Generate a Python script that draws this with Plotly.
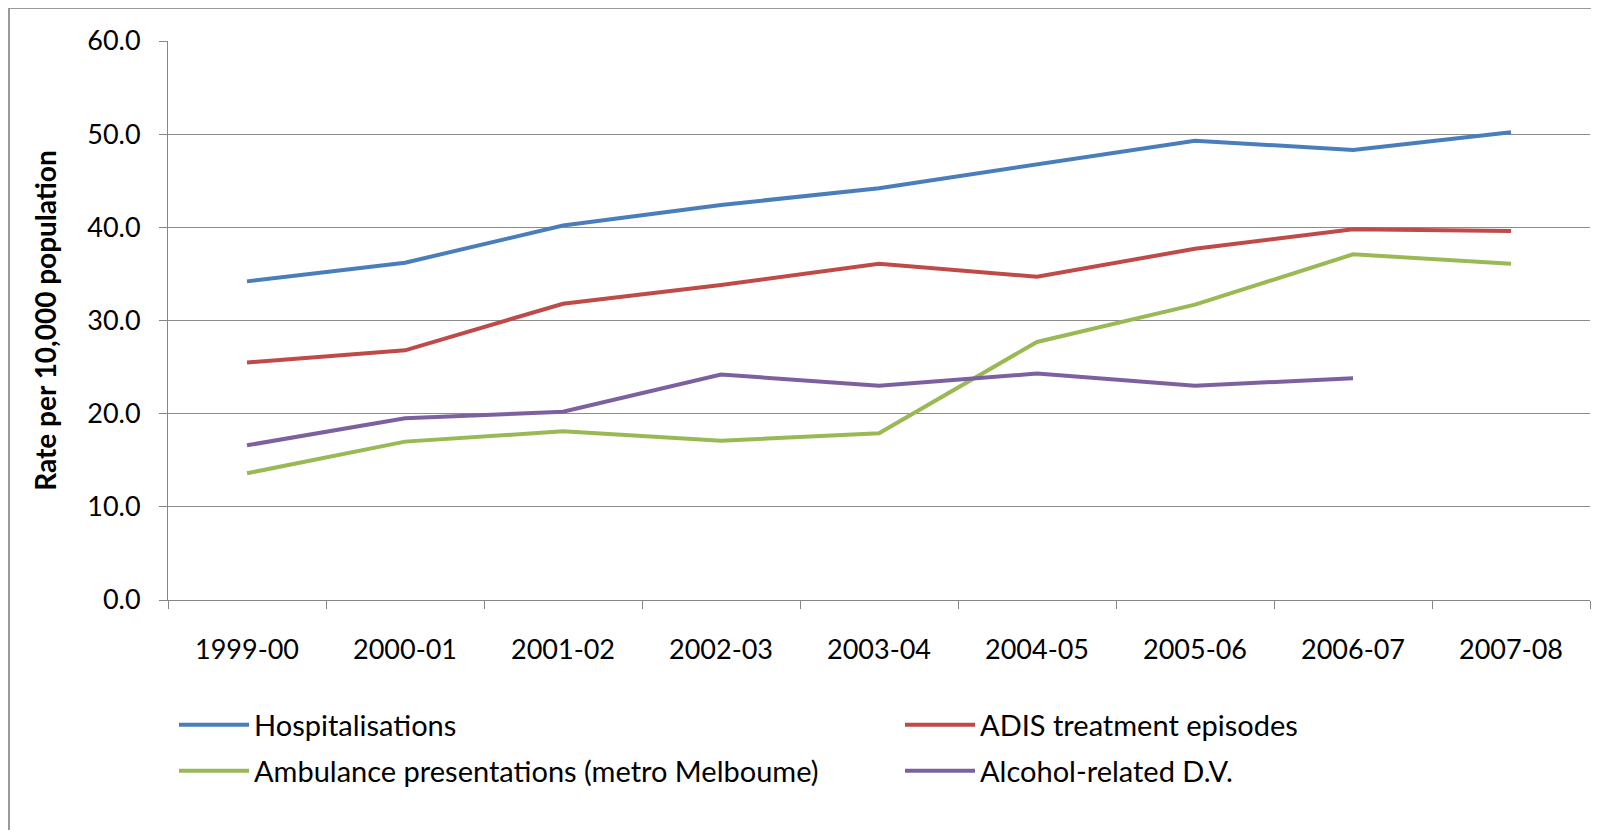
import plotly.graph_objects as go

categories = ["1999-00", "2000-01", "2001-02", "2002-03", "2003-04",
              "2004-05", "2005-06", "2006-07", "2007-08"]
hospitalisations = [34.2, 36.2, 40.2, 42.4, 44.2, 46.7, 49.3, 48.3, 50.2]
adis = [25.5, 26.8, 31.8, 33.8, 36.1, 34.7, 37.7, 39.8, 39.6]
ambulance = [13.6, 17.0, 18.1, 17.1, 17.9, 27.7, 31.7, 37.1, 36.1]
alcohol_dv = [16.6, 19.5, 20.2, 24.2, 23.0, 24.3, 23.0, 23.8, None]
y_ticks = [0, 10, 20, 30, 40, 50, 60]

series = [
    ("Hospitalisations", hospitalisations, "#4A7EBB"),
    ("ADIS treatment episodes", adis, "#BE4B48"),
    ("Ambulance presentations (metro Melboume)", ambulance, "#98B954"),
    ("Alcohol-related D.V.", alcohol_dv, "#7D60A0"),
]
legend_ids = ["legend", "legend2", "legend3", "legend4"]

FONT = "Lato, Carlito, Arial"

fig = go.Figure()
for (name, vals, col), lg in zip(series, legend_ids):
    fig.add_trace(go.Scatter(x=categories, y=vals, name=name, mode="lines",
                             line=dict(color=col, width=4),
                             connectgaps=False, legend=lg))

# page body has an 8px margin; figure coordinates below are page minus 8
W, H = 1583, 822
L, R, T, B = 160, 1, 33, 230
pw, ph = W - L - R, H - T - B


def px_x(x):
    return (x - L) / pw


def px_y(y):
    return (H - B - y) / ph


legend_common = dict(orientation="h", xanchor="left", yanchor="middle",
                     font=dict(size=29, family=FONT), bgcolor="rgba(0,0,0,0)",
                     itemwidth=70)
# legend positions (figure px): column starts and row centres
col_x = [166, 892]
row_y = [717, 763]
legend_pos = [(col_x[0], row_y[0]), (col_x[1], row_y[0]),
              (col_x[0], row_y[1]), (col_x[1], row_y[1])]

legends = {}
for lg, (lx, ly) in zip(legend_ids, legend_pos):
    legends[lg] = dict(x=px_x(lx), y=px_y(ly), **legend_common)

fig.update_layout(
    width=W, height=H,
    margin=dict(l=L, r=R, t=T, b=B, autoexpand=False),
    paper_bgcolor="white", plot_bgcolor="white",
    font=dict(family=FONT, color="black"),
    showlegend=True,
    **legends,
    xaxis=dict(
        type="category", showgrid=False, showline=True, linecolor="#868686",
        linewidth=1, ticks="outside", tickson="boundaries", ticklen=8,
        tickcolor="#868686", tickfont=dict(size=27, family=FONT),
        ticklabelstandoff=26, range=[-0.5, 8.5], automargin=False,
    ),
    yaxis=dict(
        range=[0, 60], tickvals=y_ticks, tickformat=".1f",
        showgrid=True, gridcolor="#8c8c8c", gridwidth=1,
        showline=True, linecolor="#868686", linewidth=1,
        ticks="outside", ticklen=8, tickcolor="#868686",
        tickfont=dict(size=27, family=FONT),
        ticklabelstandoff=13, zeroline=False, automargin=False,
        title=dict(text="<b>Rate per 10,000 population</b>",
                   font=dict(size=28, family=FONT), standoff=22),
    ),
    shapes=[
        dict(type="line", xref="paper", yref="paper",
             x0=px_x(1), x1=px_x(1), y0=px_y(H), y1=px_y(0),
             line=dict(color="#9a9a9a", width=2), layer="below"),
        dict(type="line", xref="paper", yref="paper",
             x0=px_x(1), x1=px_x(W), y0=px_y(0), y1=px_y(0),
             line=dict(color="#9a9a9a", width=2), layer="below"),
    ],
)

fig.write_html("out.html")
